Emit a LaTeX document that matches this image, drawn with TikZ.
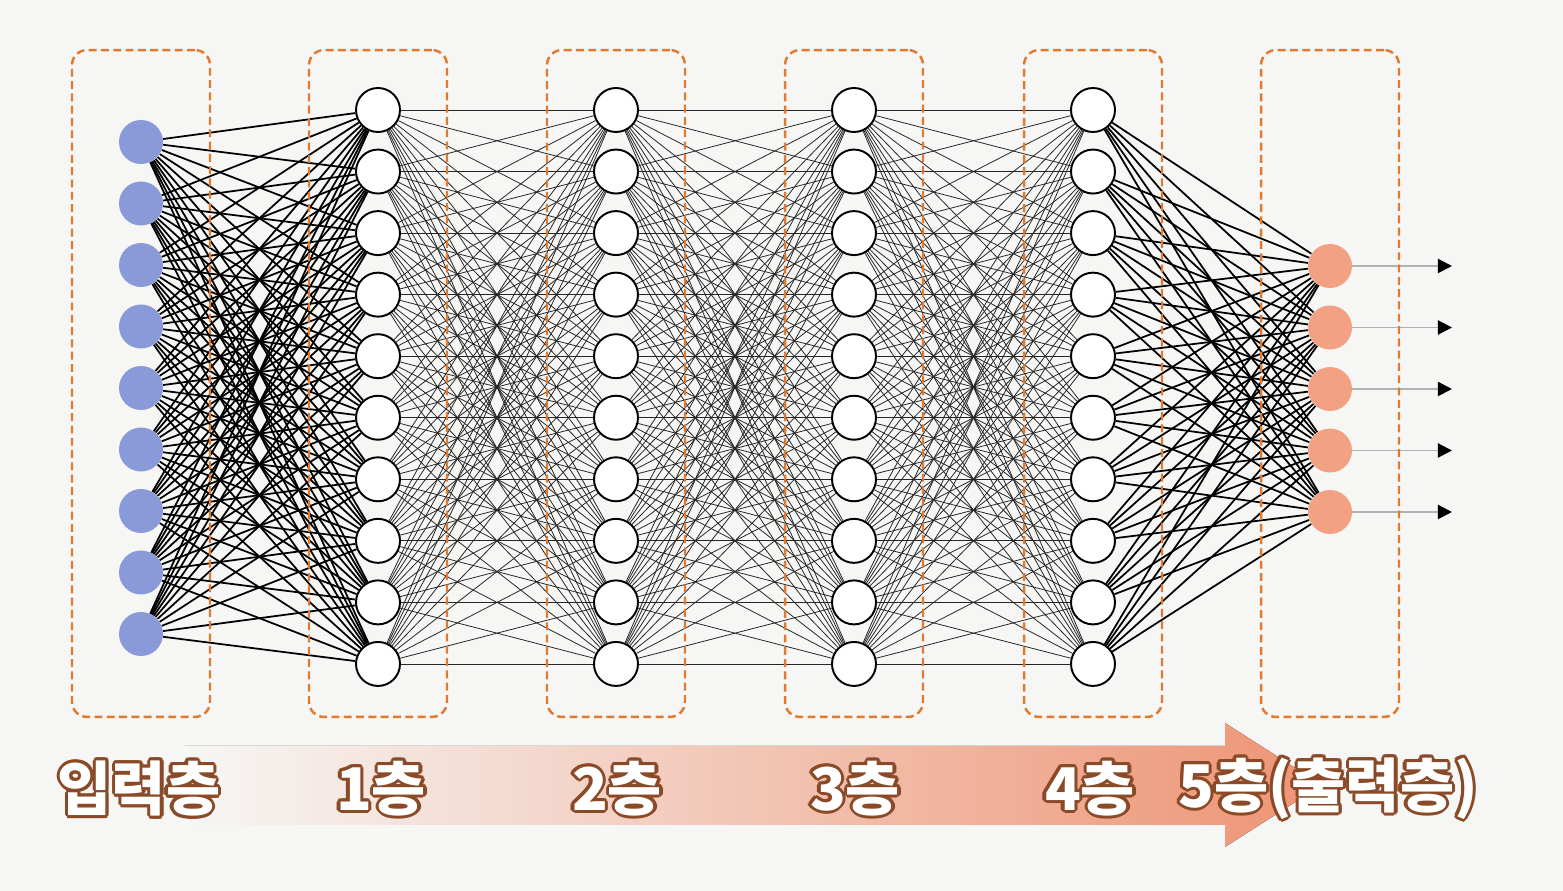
\documentclass[tikz,border=0pt]{standalone}
\usepackage{fontspec}
\newfontfamily\kr{Noto Sans CJK KR}
\usepackage[copies]{contour}
\usetikzlibrary{arrows.meta}

\definecolor{bgcol}{HTML}{F6F6F5}
\definecolor{inblue}{HTML}{8A9AD8}
\definecolor{outorange}{HTML}{F2A283}
\definecolor{dashorange}{HTML}{E07A30}
\definecolor{arrowsalmon}{HTML}{EE9474}
\definecolor{labelbrown}{HTML}{8A4A28}
\contourlength{1.8pt}
\contournumber{12}

\tikzset{
  innode/.style={circle, fill=inblue, minimum size=0.88cm, inner sep=0},
  hidnode/.style={circle, draw=black, line width=1.1pt, fill=white, minimum size=0.88cm, inner sep=0},
  outnode/.style={circle, fill=outorange, minimum size=0.88cm, inner sep=0},
  wire/.style={line width=1pt, black},
  thinwire/.style={line width=0.45pt, black!85},
  outwire/.style={line width=1.1pt, black!30, -{Triangle[color=black, length=8pt, width=8pt]}},
  layerbox/.style={draw=dashorange, line width=1.4pt, dash pattern=on 4.5pt off 2.5pt,
    rounded corners=0.3cm, minimum width=2.76cm, minimum height=13.34cm},
  layerlabel/.style={text=white, font=\kr\bfseries\fontsize{33.5}{40}\selectfont, inner sep=0}
}

\begin{document}
\begin{tikzpicture}[x=0.02cm, y=-0.02cm]
\useasboundingbox (0,0) rectangle (1563,891);
\fill[bgcol] (0,0) rectangle (1563,891);

% neurons
\foreach \i in {1,...,9}
  \node[innode] (IN\i) at (141,{142+(\i-1)*61.5}) {};
\foreach \l/\x in {1/378,2/616,3/854,4/1093}
  \foreach \j in {1,...,10}
    \node[hidnode] (L\l-\j) at (\x,{110+(\j-1)*61.55}) {};
\foreach \k in {1,...,5}
  \node[outnode] (OUT\k) at (1330,{266+(\k-1)*61.5}) {};

% weights
\foreach \i in {1,...,9}
  \foreach \j in {1,...,10}
    \draw [wire] (IN\i) -- (L1-\j);
\foreach \l in {1,2,3} {
  \pgfmathtruncatemacro\n{\l+1}
  \foreach \i in {1,...,10}
    \foreach \j in {1,...,10}
      \draw [thinwire] (L\l-\i) -- (L\n-\j);
}
\foreach \j in {1,...,10}
  \foreach \k in {1,...,5}
    \draw [wire] (L4-\j) -- (OUT\k);

% outputs
\foreach \k in {1,...,5} {
  \coordinate (END\k) at (1452,{266+(\k-1)*61.5});
  \draw [outwire] (OUT\k) -- (END\k);
}

% layer boxes
\foreach \b/\x in {IN/141,L1/378,L2/616,L3/854,L4/1093,OUT/1330}
  \node[layerbox] (BOX\b) at (\x,383.5) {};

% direction arrow
\fill[left color=bgcol, right color=arrowsalmon]
  (185,746) -- (1225,746) -- (1225,723) -- (1322,785) -- (1225,847) -- (1225,825) -- (185,825) -- cycle;

% labels
\node[layerlabel] (LBLIN) at (139,790) {\contour{labelbrown}{입력층}};
\node[layerlabel] (LBL1) at (381,790) {\contour{labelbrown}{1층}};
\node[layerlabel] (LBL2) at (617,790) {\contour{labelbrown}{2층}};
\node[layerlabel] (LBL3) at (855,790) {\contour{labelbrown}{3층}};
\node[layerlabel] (LBL4) at (1090,790) {\contour{labelbrown}{4층}};
\node[layerlabel] (LBL5) at (1328,790) {\contour{labelbrown}{5층(출력층)}};
\end{tikzpicture}
\end{document}
